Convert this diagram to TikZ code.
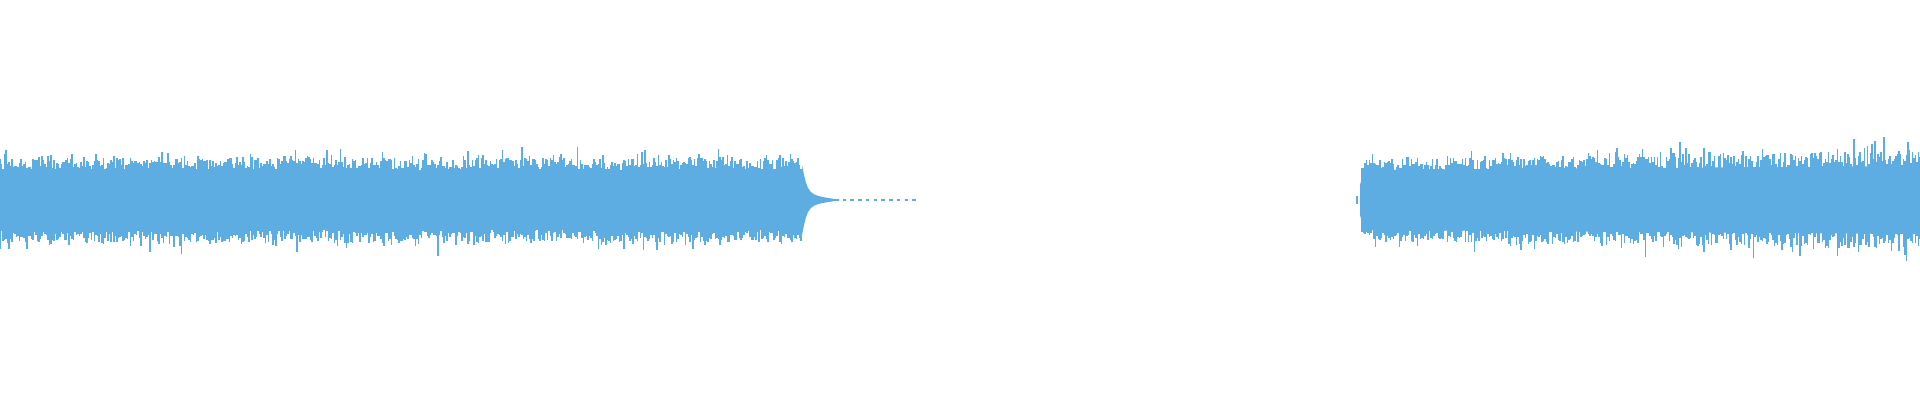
\documentclass[tikz,border=0pt]{standalone}
\definecolor{wave}{HTML}{5DADE2}
\tikzset{
  wavebar/.style={draw=wave,line width=0.3pt},
  waveband/.style={fill=wave,draw=none}
}
\begin{document}
\begin{tikzpicture}
\useasboundingbox (0,0) rectangle (19.2,4);
\pgfmathsetseed{7}
% left segment
\fill[waveband] (0,1.70) rectangle (8.02,2.30);
\foreach \i in {0,...,534}{
  \pgfmathsetmacro{\x}{\i*0.015}
  \pgfmathsetmacro{\up}{0.30+0.12*rnd+0.32*rnd*rnd*rnd*rnd}
  \pgfmathsetmacro{\dn}{0.30+0.12*rnd+0.32*rnd*rnd*rnd*rnd}
  \draw[wavebar] (\x,2-\dn) -- (\x,2+\up);
}
% decay
\fill[waveband] (8.02,1.65) .. controls (8.08,1.95) .. (8.35,1.99)
  -- (8.35,2.01) .. controls (8.08,2.05) .. (8.02,2.35) -- cycle;
\draw[wave,line width=0.4pt,dash pattern=on 1pt off 1.2pt] (8.35,2) -- (9.2,2);
% right segment
\draw[wavebar] (13.57,1.96) -- (13.57,2.04);
\fill[waveband] (13.6,1.85) -- (13.64,1.70) -- (19.2,1.66) -- (19.2,2.34) -- (13.64,2.30) -- (13.6,2.15) -- cycle;
\foreach \i in {0,...,372}{
  \pgfmathsetmacro{\x}{13.62+\i*0.015}
  \pgfmathsetmacro{\g}{(\x-13.6)/5.6}
  \pgfmathsetmacro{\up}{0.30+(0.1+0.08*\g)*rnd+(0.2+0.35*\g)*rnd*rnd*rnd*rnd}
  \pgfmathsetmacro{\dn}{0.30+(0.1+0.08*\g)*rnd+(0.2+0.35*\g)*rnd*rnd*rnd*rnd}
  \draw[wavebar] (\x,2-\dn) -- (\x,2+\up);
}
\end{tikzpicture}
\end{document}
